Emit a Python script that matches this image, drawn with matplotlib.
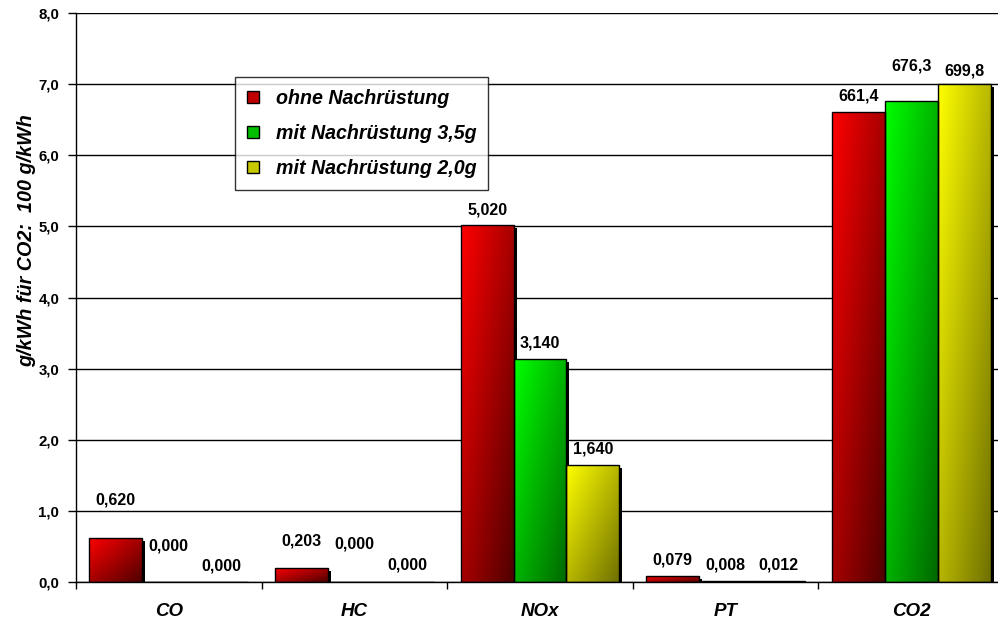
import numpy as np
import matplotlib
matplotlib.use("Agg")
import matplotlib.pyplot as plt
from matplotlib.patches import Rectangle, Patch
from matplotlib.transforms import offset_copy
from matplotlib.colors import to_rgb

# ---- data -------------------------------------------------------------
categories = ["CO", "HC", "NOx", "PT", "CO2"]
series_names = ["ohne Nachrüstung", "mit Nachrüstung 3,5g", "mit Nachrüstung 2,0g"]
ohne = [0.620, 0.203, 5.020, 0.079, 661.4]
mit_35 = [0.000, 0.000, 3.140, 0.008, 676.3]
mit_20 = [0.000, 0.000, 1.640, 0.012, 699.8]
co2_scale = 100          # CO2 is plotted in units of 100 g/kWh
y_ticks = [0, 1, 2, 3, 4, 5, 6, 7, 8]

# ---- layout / style ---------------------------------------------------
bright = ["#ff0000", "#00ff00", "#ffff00"]
dark = ["#500000", "#006800", "#707000"]
mid = ["#c00000", "#00c000", "#c8c800"]
label_y = [
    [1.146, 0.577, 5.232, 0.314, 6.835],
    [0.506, 0.541, 3.361, 0.246, 7.257],
    [0.225, 0.240, 1.870, 0.246, 7.187],
]
bar_w = 0.285
FONT = "Liberation Sans"

plt.rcParams["font.family"] = [FONT, "DejaVu Sans"]

fig = plt.figure(figsize=(9.98, 6.21), dpi=100)
ax = fig.add_axes([76 / 998, 1 - 582 / 621, (1004 - 76) / 998, (582 - 13) / 621])

series = [ohne, mit_35, mit_20]
x = np.arange(len(categories))
shadow_tr = offset_copy(ax.transData, fig=fig, x=3, y=-3, units="dots")


def fmt(v, cat):
    if cat == "CO2":
        return f"{v:.1f}".replace(".", ",")
    return f"{v:.3f}".replace(".", ",")


for i, vals in enumerate(series):
    plotted = [v / co2_scale if c == "CO2" else v for v, c in zip(vals, categories)]
    bars = ax.bar(x + (i - 1) * bar_w, plotted, width=bar_w, facecolor="none",
                  edgecolor="black", linewidth=1.0, zorder=4)
    c0 = np.array(to_rgb(bright[i]))
    c1 = np.array(to_rgb(dark[i]))
    for b in bars:
        bx, by, bw, bh = b.get_x(), b.get_y(), b.get_width(), b.get_height()
        if bh <= 0:
            continue
        ax.add_patch(Rectangle((bx, by), bw, bh, facecolor="black", edgecolor="none",
                               transform=shadow_tr, zorder=2.5))
        n = 96
        u = np.linspace(0, 1, n)
        U, V = np.meshgrid(u, u)
        t = (U + V) / 2
        img = (1 - t)[..., None] * c0 + t[..., None] * c1
        im = ax.imshow(img, extent=(bx, bx + bw, by, by + bh), origin="upper",
                       aspect="auto", interpolation="bilinear", zorder=3)
        im.set_clip_path(b)
    for j, (v, c) in enumerate(zip(vals, categories)):
        ax.text(x[j] + (i - 1) * bar_w, label_y[i][j], fmt(v, c), ha="center",
                va="center", fontsize=11.5, fontweight="bold", color="black", zorder=6)

# ---- axes -------------------------------------------------------------
ax.set_xlim(-0.5, len(categories) - 0.5)
ax.set_ylim(0, 8)
ax.set_yticks(y_ticks)
ax.set_yticklabels([f"{t:.1f}".replace(".", ",") for t in y_ticks],
                   fontsize=10.8, fontweight="bold")
ax.tick_params(axis="y", length=6, width=1, pad=6, direction="out")

ax.set_xticks(np.arange(len(categories) + 1) - 0.5)
ax.set_xticklabels([])
ax.tick_params(axis="x", which="major", length=5, width=1, direction="out")
ax.set_xticks(x, minor=True)
ax.set_xticklabels(categories, minor=True, fontsize=13.5, fontweight="bold", style="italic")
ax.tick_params(axis="x", which="minor", length=0, pad=15)

ax.yaxis.grid(True, color="black", linewidth=1.0)
ax.set_axisbelow(True)
for s in ["top", "right"]:
    ax.spines[s].set_visible(False)
for s in ["left", "bottom"]:
    ax.spines[s].set_linewidth(1.0)
    ax.spines[s].set_zorder(5)

fig.text(27 / 998, 1 - 241 / 621, "g/kWh für CO2:  100 g/kWh", rotation=90,
         ha="center", va="center", fontsize=14.2, fontweight="bold", style="italic")

handles = [Patch(facecolor=m, edgecolor="black", linewidth=1.0) for m in mid]
leg = fig.legend(handles, series_names, loc="upper left",
                 bbox_to_anchor=(235 / 998, 1 - 77 / 621), bbox_transform=fig.transFigure,
                 frameon=True, fancybox=False, shadow=False, borderaxespad=0,
                 prop={"family": FONT, "size": 14.1, "weight": "bold", "style": "italic"},
                 handlelength=0.62, handleheight=0.62, handletextpad=0.85,
                 labelspacing=0.82, borderpad=0.6)
leg.get_frame().set_edgecolor("black")
leg.get_frame().set_linewidth(1.0)
leg.set_zorder(10)

fig.savefig("out.png", dpi=100)
